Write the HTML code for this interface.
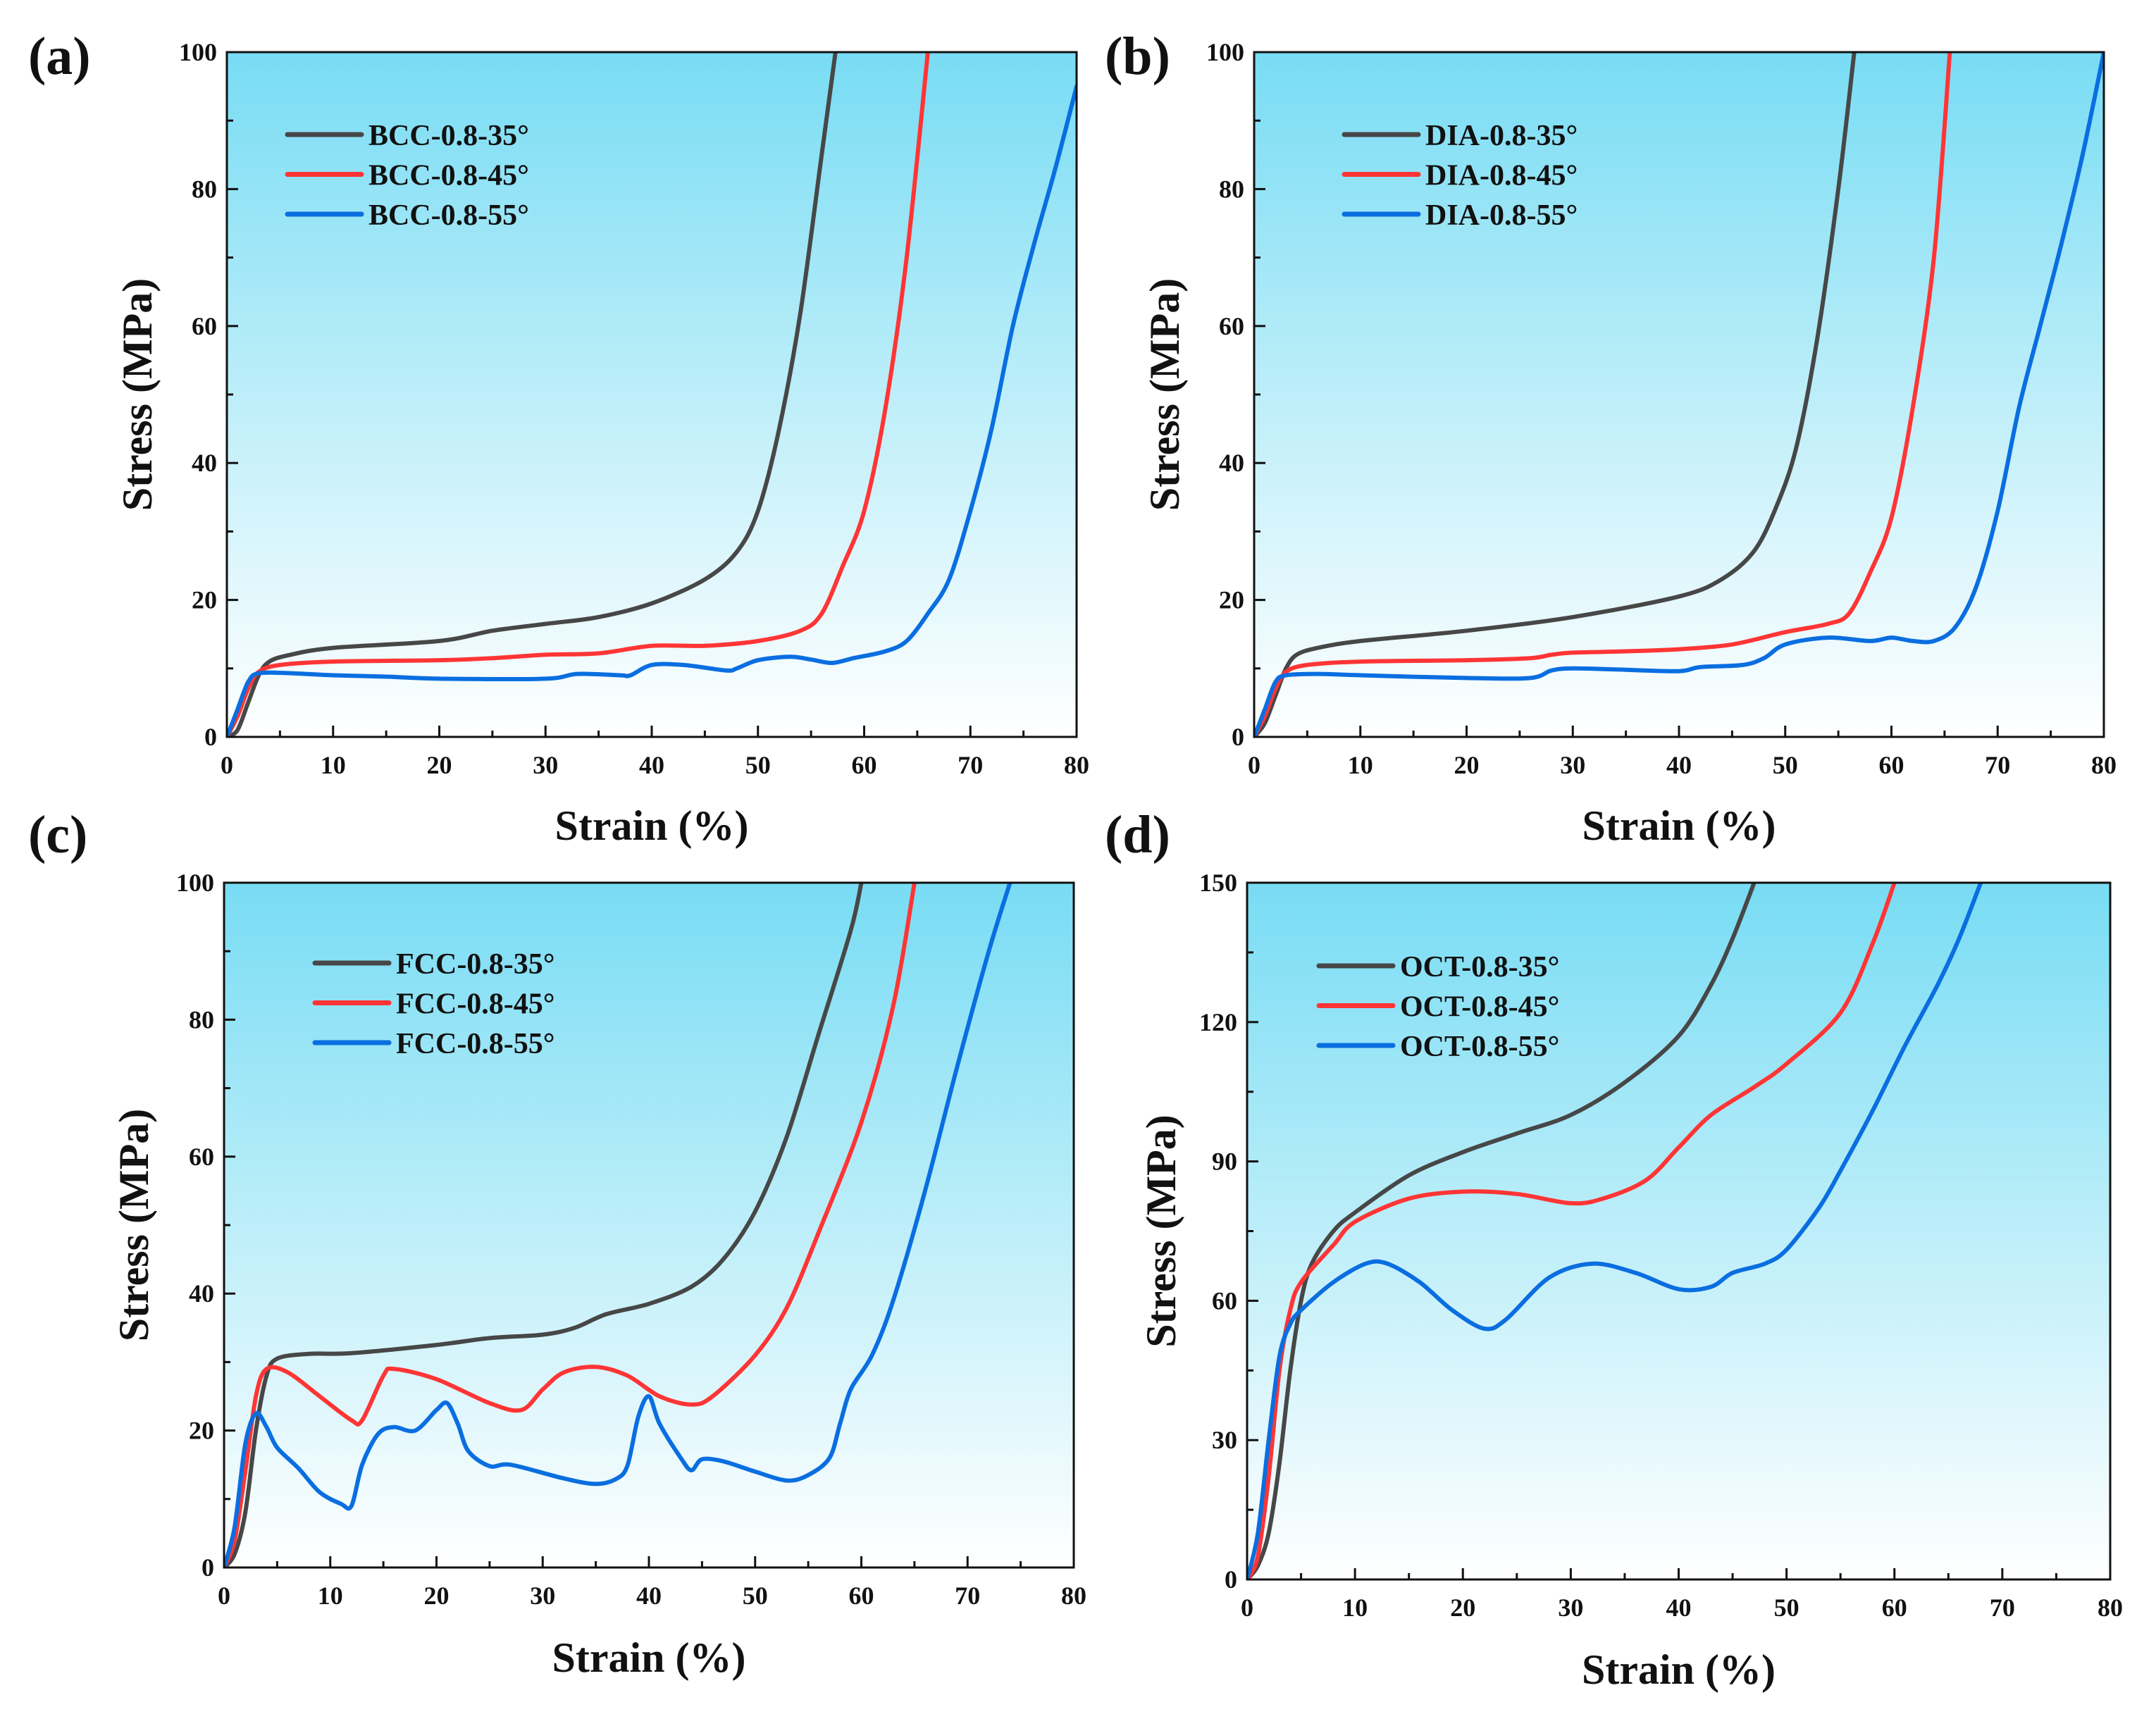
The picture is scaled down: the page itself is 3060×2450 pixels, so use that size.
<!DOCTYPE html>
<html><head><meta charset="utf-8">
<style>
html,body{margin:0;padding:0;background:#fff;}
svg{display:block;}
text{font-family:"Liberation Serif",serif;font-weight:bold;fill:#111;}
</style></head>
<body>
<svg id="fig" width="3060" height="2450" viewBox="0 0 3060 2450" xmlns="http://www.w3.org/2000/svg">
<defs>
<linearGradient id="bg" x1="0" y1="0" x2="0" y2="1">
<stop offset="0" stop-color="#78dcf4"/>
<stop offset="0.5" stop-color="#bdeef9"/>
<stop offset="1" stop-color="#ffffff"/>
</linearGradient>
</defs>
</svg>
<script>
const xTicks=[0,10,20,30,40,50,60,70,80];
const yTicks100=[0,20,40,60,80,100];
const yTicks150=[0,30,60,90,120,150];
const seriesColors=["#474747","#ff3535","#0a6ee0"];

const a35x=[0,1,2,3,4,6,10,20,25,30,35,40,45,48,50,52,54,56,57.3];
const a35y=[0,1,5,9,11,12,13,14,15.5,16.5,17.5,19.5,23,27,33,45,62,85,100];
const a45x=[0,1,2,3,5,10,20,25,30,35,40,45,50,54,56,58,60,62,64,66];
const a45y=[0,3,7,9.5,10.5,11,11.2,11.5,12,12.2,13.3,13.3,14,15.5,18,25,33,48,70,100];
const a55x=[0,1,2,3,6,10,15,20,30,33,37,38,40,43,47,48,50,53,55,57,59,62,64,66,68,70,72,74,76,78,80];
const a55y=[0,4,8,9.3,9.3,9,8.8,8.5,8.5,9.2,9,9,10.5,10.5,9.7,10,11.2,11.7,11.3,10.8,11.5,12.5,14,18,23,33,45,60,72,83,95];

const b35x=[0,1,2,3,4,6,10,20,30,40,44,47,49,51,53,55,56.5];
const b35y=[0,2,6,10,12,13,14,15.5,17.5,20.5,23,27,33,42,58,80,100];
const b45x=[0,1,2,3,5,10,20,26,28,30,35,40,45,50,54,56,58,60,62,64,65.5];
const b45y=[0,3,7,9.5,10.5,11,11.2,11.5,12,12.3,12.5,12.8,13.5,15.3,16.5,18,24,32,48,70,100];
const b55x=[0,1,2,3,6,10,20,26,28,30,35,40,42,46,48,50,54,58,60,62,64,66,68,70,72,74,76,78,80];
const b55y=[0,4,8,9,9.2,9,8.6,8.6,9.7,10,9.8,9.6,10.2,10.5,11.5,13.5,14.5,14,14.5,14,14,16,22,33,48,60,72,85,100];

const c35x=[0,1,2,3,4,5,8,12,20,25,30,33,36,40,44,47,50,53,56,59,60];
const c35y=[0,2,8,20,28,30.5,31.2,31.3,32.5,33.5,34,35,37,38.5,41,45,52,63,78,93,100];
const c45x=[0,1,2,3,4,6,9,12,13,15,16,20,25,28,30,32,35,38,41,44,46,50,53,56,60,63,65];
const c45y=[0,4,14,25,29,28.5,25,21.5,21.5,28,29,27.5,24,23,26,28.5,29.3,28,25,23.8,25,31,38,49,65,82,100];
const c55x=[0,1,2,3,4,5,7,9,11,12,13,14.5,16,18,20,21,22,23,25,27,32,35,37,38,39,40,41,43,44,45,47,50,53,55,57,58,59,61,63,66,69,72,74];
const c55y=[0,6,18,22.5,20.5,17.5,14.5,11,9.3,9,15,19.5,20.5,20,23,24,21,17,14.8,15,13,12.2,13,15,22,25,21,16,14.2,15.8,15.5,14,12.7,13.5,16,21,26,31,39,55,73,90,100];

const d35x=[0,1,2,3,4,5,6,8,10,15,20,25,30,35,40,43,45,47];
const d35y=[0,3,10,25,45,60,68,75,79,87,92,96,100,107,117,128,138,150];
const d45x=[0,1,2,3,4,5,8,10,15,20,25,30,33,37,40,43,47,50,55,58,60];
const d45y=[0,5,22,45,58,64,72,77,82,83.5,83,81,82,86,93,100,106,111,122,137,150];
const d55x=[0,1,2,3,4,5,8,11,13,16,19,22,24,28,32,36,40,43,45,48,50,53,55,58,61,64,66,68];
const d55y=[0,10,30,48,55,58,64,68,68,64,58,54,56,65,68,66,62.5,63,66,68,71,80,88,101,115,128,138,150];

const NS="http://www.w3.org/2000/svg";
const svg=document.getElementById('fig');
function mk(tag,attrs,parent){const e=document.createElementNS(NS,tag);for(const k in attrs)e.setAttribute(k,attrs[k]);(parent||svg).appendChild(e);return e;}

function smoothPath(pts){
  let d='M'+pts[0][0].toFixed(1)+','+pts[0][1].toFixed(1);
  for(let i=0;i<pts.length-1;i++){
    const p0=pts[Math.max(0,i-1)],p1=pts[i],p2=pts[i+1],p3=pts[Math.min(pts.length-1,i+2)];
    const t=0.16;
    const c1x=p1[0]+(p2[0]-p0[0])*t,c1y=p1[1]+(p2[1]-p0[1])*t;
    const c2x=p2[0]-(p3[0]-p1[0])*t,c2y=p2[1]-(p3[1]-p1[1])*t;
    d+='C'+c1x.toFixed(1)+','+c1y.toFixed(1)+' '+c2x.toFixed(1)+','+c2y.toFixed(1)+' '+p2[0].toFixed(1)+','+p2[1].toFixed(1);
  }
  return d;
}

function panel(cfg){
  const g=mk('g',{});
  
  
  const L=cfg.x0,R=cfg.x1,T=cfg.y0,B=cfg.y1,ymax=cfg.ymax;
  const sx=v=>L+(v/80)*(R-L);
  const sy=v=>B-(v/ymax)*(B-T);
  const bg=mk('rect',{x:L,y:T,width:R-L,height:B-T,fill:'url(#bg)'},g);
  
  
  const cp=mk('clipPath',{id:'clip'+cfg.id},g);
  mk('rect',{x:L,y:T,width:R-L,height:B-T},cp);
  for(let v=0;v<=80;v+=5){
    const major=v%10===0;
    mk('line',{x1:sx(v),x2:sx(v),y1:B,y2:B-(major?16:9),stroke:'#111','stroke-width':3},g);
  }
  const step=cfg.yt[1]-cfg.yt[0];
  for(let v=0;v<=ymax;v+=step/2){
    const major=Math.abs(v/step-Math.round(v/step))<1e-6;
    mk('line',{x1:L,x2:L+(major?16:9),y1:sy(v),y2:sy(v),stroke:'#111','stroke-width':3},g);
  }
  xTicks.forEach(v=>{
    const t=mk('text',{x:sx(v),y:B+52,'text-anchor':'middle','font-size':36},g);
    t.textContent=v;
    
    
  });
  cfg.yt.forEach(v=>{
    const t=mk('text',{x:L-14,y:sy(v)+12,'text-anchor':'end','font-size':36},g);
    t.textContent=v;
    
    
  });
  const lg=mk('g',{'clip-path':'url(#clip'+cfg.id+')'},g);
  cfg.series.forEach((s,i)=>{
    const pts=s.x.map((xv,j)=>[sx(xv),sy(s.y[j])]);
    const p=mk('path',{d:smoothPath(pts),fill:'none',stroke:seriesColors[i],'stroke-width':6,'stroke-linejoin':'round','stroke-linecap':'round'},lg);
    
    
  });
  mk('rect',{x:L,y:T,width:R-L,height:B-T,fill:'none',stroke:'#111','stroke-width':3},g);
  cfg.series.forEach((s,i)=>{
    const y=cfg.ly+i*56.5;
    const ln=mk('line',{x1:cfg.lx,x2:cfg.lx+105,y1:y,y2:y,stroke:seriesColors[i],'stroke-width':7,'stroke-linecap':'round'},g);
    
    
    const t=mk('text',{x:cfg.lx+115,y:y+15,'font-size':42},g);
    t.textContent=s.name+'\u00b0';
    
    
  });
  const xt=mk('text',{x:(L+R)/2,y:cfg.xty,'text-anchor':'middle','font-size':60},g);
  xt.textContent='Strain (%)';
  
  
  const yt=mk('text',{x:0,y:0,'text-anchor':'middle','font-size':60,transform:'translate('+cfg.ytx+','+((T+B)/2)+') rotate(-90)'},g);
  yt.textContent='Stress (MPa)';
  
  
  const pl=mk('text',{x:cfg.px,y:cfg.py,'font-size':76},g);
  pl.textContent='('+cfg.id+')';
  
  
}

panel({id:'a',x0:322,x1:1528,y0:74,y1:1046,ymax:100,yt:yTicks100,lx:408,ly:191,xty:1192,ytx:215,px:40,py:105,
  series:[{name:'BCC-0.8-35',x:a35x,y:a35y},{name:'BCC-0.8-45',x:a45x,y:a45y},{name:'BCC-0.8-55',x:a55x,y:a55y}]});
panel({id:'b',x0:1780,x1:2986,y0:74,y1:1046,ymax:100,yt:yTicks100,lx:1908,ly:191,xty:1192,ytx:1673,px:1568,py:105,
  series:[{name:'DIA-0.8-35',x:b35x,y:b35y},{name:'DIA-0.8-45',x:b45x,y:b45y},{name:'DIA-0.8-55',x:b55x,y:b55y}]});
panel({id:'c',x0:318,x1:1524,y0:1253,y1:2225,ymax:100,yt:yTicks100,lx:447,ly:1367,xty:2373,ytx:210,px:40,py:1210,
  series:[{name:'FCC-0.8-35',x:c35x,y:c35y},{name:'FCC-0.8-45',x:c45x,y:c45y},{name:'FCC-0.8-55',x:c55x,y:c55y}]});
panel({id:'d',x0:1770,x1:2995,y0:1253,y1:2242,ymax:150,yt:yTicks150,lx:1872,ly:1371,xty:2390,ytx:1668,px:1568,py:1210,
  series:[{name:'OCT-0.8-35',x:d35x,y:d35y},{name:'OCT-0.8-45',x:d45x,y:d45y},{name:'OCT-0.8-55',x:d55x,y:d55y}]});
</script>
</body></html>
